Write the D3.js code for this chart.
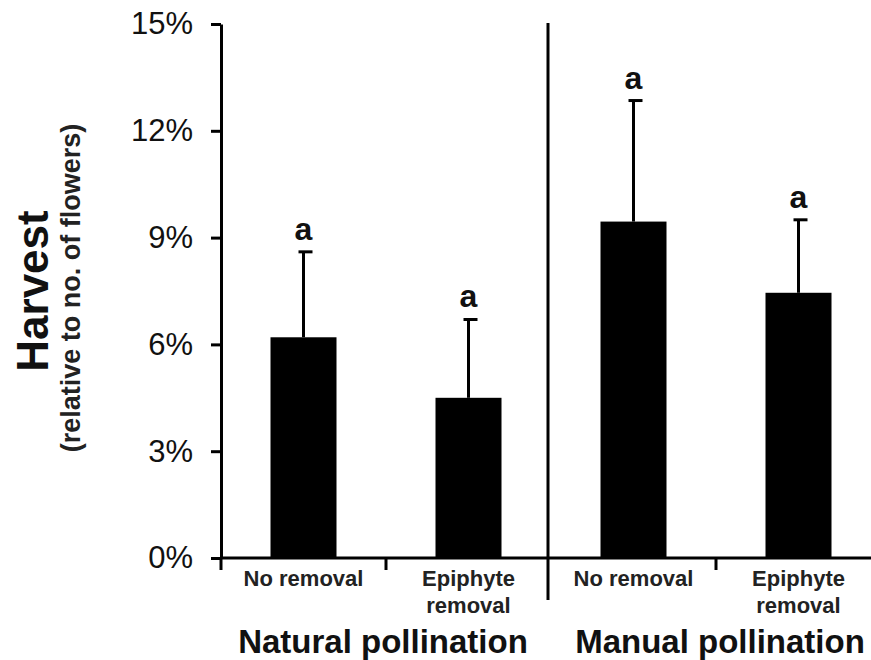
<!DOCTYPE html>
<html>
<head>
<meta charset="utf-8">
<script src="https://cdn.jsdelivr.net/npm/d3@7/dist/d3.min.js"></script>
<style>
  html, body { margin: 0; padding: 0; background: #fff; }
  svg { display: block; font-family: "Liberation Sans", Arial, Helvetica, sans-serif; }
</style>
</head>
<body>
<svg id="chart" width="871" height="660"></svg>
<script>
// Harvest (% of flowers) by pollination type and epiphyte treatment
const groups = ["Natural pollination", "Manual pollination"];
const treatments = ["No removal", "Epiphyte removal"];
const treatmentLines = [["No removal"], ["Epiphyte", "removal"]];
const harvest = [6.2, 4.5, 9.45, 7.45];      // mean harvest, %
const errorSize = [2.4, 2.2, 3.4, 2.05];      // upper error bar, %
const letters = ["a", "a", "a", "a"];         // significance groups
const yTicks = [0, 3, 6, 9, 12, 15];

const bars = harvest.map((v, i) => ({
  id: i,
  group: groups[Math.floor(i / treatments.length)],
  treatment: i % treatments.length,
  value: v,
  err: errorSize[i],
  letter: letters[i]
}));

const svg = d3.select("#chart");
const x0 = 221, x1 = 881, yBottom = 558, yTop = 24;

const x = d3.scaleBand()
  .domain(bars.map(d => d.id))
  .range([x0, x1])
  .paddingInner(0.6)
  .paddingOuter(0.3);

const y = d3.scaleLinear().domain([0, 15]).range([yBottom, yTop]);

const halfGap = x.step() * x.paddingInner() / 2;
const boundary = id => x(id) - halfGap;

// bars
svg.append("g").selectAll("rect").data(bars).join("rect")
  .attr("x", d => x(d.id))
  .attr("y", d => y(d.value))
  .attr("width", x.bandwidth())
  .attr("height", d => y(0) - y(d.value))
  .attr("fill", "#000");

// error bars (upper only)
const eb = svg.append("g").attr("stroke", "#000").attr("stroke-width", 3);
eb.selectAll("line.v").data(bars).join("line")
  .attr("class", "v")
  .attr("x1", d => x(d.id) + x.bandwidth() / 2)
  .attr("x2", d => x(d.id) + x.bandwidth() / 2)
  .attr("y1", d => y(d.value))
  .attr("y2", d => y(d.value + d.err));
eb.selectAll("line.c").data(bars).join("line")
  .attr("class", "c")
  .attr("x1", d => x(d.id) + x.bandwidth() / 2 - 5)
  .attr("x2", d => x(d.id) + x.bandwidth() / 2 + 9)
  .attr("y1", d => y(d.value + d.err))
  .attr("y2", d => y(d.value + d.err));

// significance letters
svg.append("g").selectAll("text").data(bars).join("text")
  .attr("x", d => x(d.id) + x.bandwidth() / 2)
  .attr("y", d => y(d.value + d.err) - 12)
  .attr("text-anchor", "middle")
  .attr("font-size", 32)
  .attr("font-weight", "bold")
  .attr("fill", "#111")
  .text(d => d.letter);

// y axis
const yAxis = d3.axisLeft(y)
  .tickValues(yTicks)
  .tickFormat(d => d + "%")
  .tickSize(10)
  .tickSizeOuter(0)
  .tickPadding(18);
const ya = svg.append("g").attr("transform", `translate(${x0},0)`).call(yAxis);
ya.select(".domain").attr("stroke", "#000").attr("stroke-width", 3);
ya.selectAll(".tick line").attr("stroke", "#000").attr("stroke-width", 3);
ya.selectAll(".tick text")
  .attr("font-size", 31)
  .attr("font-family", "'Liberation Sans', Arial, sans-serif")
  .attr("fill", "#111");

// x axis baseline and category ticks
svg.append("line")
  .attr("x1", x0).attr("x2", 871)
  .attr("y1", y(0)).attr("y2", y(0))
  .attr("stroke", "#000").attr("stroke-width", 3);

const tickIds = bars.map(d => d.id).filter(id => id !== treatments.length);
svg.append("g").selectAll("line").data(tickIds).join("line")
  .attr("x1", id => boundary(id)).attr("x2", id => boundary(id))
  .attr("y1", y(0)).attr("y2", y(0) + 12)
  .attr("stroke", "#000").attr("stroke-width", 3);

// separator between pollination groups
const sepX = boundary(treatments.length) - 3;
svg.append("line")
  .attr("x1", sepX).attr("x2", sepX)
  .attr("y1", 23).attr("y2", 600)
  .attr("stroke", "#000").attr("stroke-width", 3);

// treatment labels
const catLabels = svg.append("g").selectAll("text").data(bars).join("text")
  .attr("x", d => x(d.id) + x.bandwidth() / 2)
  .attr("y", 586)
  .attr("text-anchor", "middle")
  .attr("font-size", 22)
  .attr("font-weight", "bold")
  .attr("fill", "#222");
catLabels.selectAll("tspan").data(d => treatmentLines[d.treatment]).join("tspan")
  .attr("x", function() { return d3.select(this.parentNode).attr("x"); })
  .attr("dy", (t, i) => i === 0 ? 0 : 27)
  .text(t => t);

// group labels, centred under each pair of bars
const groupShift = [-3, 4];
svg.append("g").selectAll("text").data(groups).join("text")
  .attr("x", (g, gi) => {
    const ids = bars.filter(d => d.group === g).map(d => d.id);
    return (x(ids[0]) + x(ids[ids.length - 1]) + x.bandwidth()) / 2 + groupShift[gi];
  })
  .attr("y", 653)
  .attr("text-anchor", "middle")
  .attr("font-size", 33)
  .attr("font-weight", "bold")
  .attr("fill", "#111")
  .text(g => g);

// y axis title
svg.append("text")
  .attr("transform", "translate(48,291) rotate(-90)")
  .attr("text-anchor", "middle")
  .attr("font-size", 44)
  .attr("font-weight", "bold")
  .attr("fill", "#111")
  .text("Harvest");
svg.append("text")
  .attr("transform", "translate(80,288) rotate(-90)")
  .attr("text-anchor", "middle")
  .attr("font-size", 27)
  .attr("font-weight", "bold")
  .attr("fill", "#222")
  .text("(relative to no. of flowers)");
</script>
</body>
</html>
